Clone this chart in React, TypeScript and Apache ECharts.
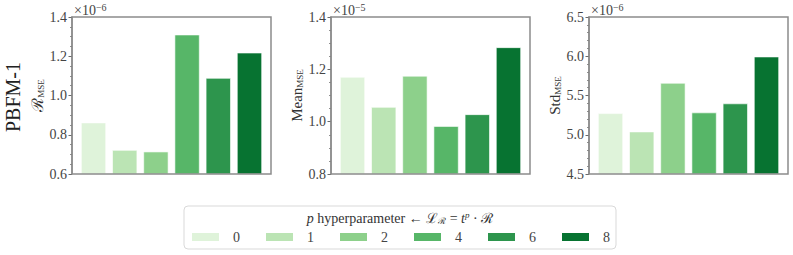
import React, { useEffect, useRef } from 'react';
import * as echarts from 'echarts';

const legendLabels = ['0', '1', '2', '4', '6', '8'];
const barColors = ['#dff3da', '#bbe4b4', '#8dd08b', '#57b668', '#2d954d', '#077331'];
const rValues = [0.862, 0.722, 0.714, 1.31, 1.089, 1.218];
const meanValues = [1.171, 1.056, 1.175, 0.983, 1.028, 1.284];
const stdValues = [5.273, 5.04, 5.66, 5.283, 5.398, 5.995];
const yMins = [0.6, 0.8, 4.5];
const yMaxs = [1.4, 1.4, 6.5];
const yIntervals = [0.2, 0.2, 0.5];
const minorSplits = [4, 4, 5];
const exponents = ['−6', '−5', '−6'];
const yNames = ['{r|ℛ}{s|MSE}', '{m|Mean}{s|MSE}', '{m|Std}{s|MSE}'];
const legendTitle = '{i|p}{n| hyperparameter ← }{c|ℒ}{sub|ℛ}{n| = }{i|t}{sup|p}{n| · }{c|ℛ}';
const rowLabel = 'PBFM-1';

const FONT = "'Liberation Serif', 'DejaVu Serif', serif";
const gridLefts = [72, 331, 589];
const GRID_TOP = 17;
const GRID_W = 199;
const GRID_H = 157;

export default function App() {
  const ref = useRef<HTMLDivElement>(null);
  useEffect(() => {
    if (!ref.current) return;
    const chart = echarts.init(ref.current, undefined, { renderer: 'svg' });
    const allValues = [rValues, meanValues, stdValues];
    const grids = gridLefts.map((l) => ({
      left: l,
      top: GRID_TOP,
      width: GRID_W,
      height: GRID_H,
      show: false,
    }));
    const xAxes = gridLefts.map((_, g) => ({
      type: 'value',
      gridIndex: g,
      min: -0.69,
      max: 5.69,
      axisLine: { show: false },
      axisTick: { show: false },
      axisLabel: { show: false },
      splitLine: { show: false },
    }));
    const yAxes = gridLefts.map((_, g) => ({
      type: 'value',
      gridIndex: g,
      min: yMins[g],
      max: yMaxs[g],
      interval: yIntervals[g],
      name: yNames[g],
      nameLocation: 'middle',
      nameRotate: 90,
      nameGap: g === 0 ? 23 : 25,
      nameTextStyle: {
        fontFamily: FONT,
        color: '#333',
        rich: {
          r: { fontFamily: FONT, fontSize: 16, color: '#333' },
          m: { fontFamily: FONT, fontSize: 15, color: '#333' },
          s: { fontFamily: FONT, fontSize: 9, color: '#333', verticalAlign: 'bottom', padding: [6, 0, 0, 0] },
        },
      },
      axisLine: { show: true, onZero: false, lineStyle: { color: '#8c8c8c', width: 1.5 } },
      axisTick: { show: true, length: 3.5, lineStyle: { color: '#444', width: 0.8 } },
      minorTick: { show: true, splitNumber: minorSplits[g], length: 2, lineStyle: { color: '#444', width: 0.6 } },
      splitLine: { show: false },
      axisLabel: {
        fontFamily: FONT,
        fontSize: 14,
        color: '#444',
        margin: 5,
        formatter: (v: number) => v.toFixed(1),
      },
    }));
    const series: any[] = [];
    allValues.forEach((vals, g) => {
      vals.forEach((v, i) => {
        series.push({
          type: 'bar',
          name: legendLabels[i],
          xAxisIndex: g,
          yAxisIndex: g,
          data: [[i, v]],
          barWidth: 25,
          barGap: '-100%',
          clip: true,
          itemStyle: { color: barColors[i], borderColor: '#ffffff', borderWidth: 0.6 },
        });
      });
    });
    const graphics: any[] = [
      {
        type: 'rect',
        shape: { x: 184, y: 206, width: 432, height: 43, r: 4 },
        style: { fill: '#fff', stroke: '#d9d9d9', lineWidth: 1 },
        z: -1,
      },
      {
        type: 'text',
        x: 400,
        y: 218,
        style: {
          text: legendTitle,
          align: 'center',
          verticalAlign: 'middle',
          fill: '#333',
          font: `14px ${FONT}`,
          rich: {
            i: { fontFamily: FONT, fontSize: 14, fontStyle: 'italic', fill: '#333' },
            n: { fontFamily: FONT, fontSize: 14, fill: '#333' },
            c: { fontFamily: FONT, fontSize: 14, fill: '#333' },
            sub: { fontFamily: FONT, fontSize: 9, fill: '#333', verticalAlign: 'bottom', padding: [6, 0, 0, 0] },
            sup: { fontFamily: FONT, fontSize: 9, fontStyle: 'italic', fill: '#333', verticalAlign: 'top', padding: [0, 0, 6, 0] },
          },
        },
      },
      {
        type: 'text',
        x: 13,
        y: 97,
        rotation: Math.PI / 2,
        style: {
          text: rowLabel,
          align: 'center',
          verticalAlign: 'middle',
          fill: '#222',
          font: `20px ${FONT}`,
        },
      },
    ];
    gridLefts.forEach((l, g) => {
      graphics.push({
        type: 'rect',
        shape: { x: l, y: GRID_TOP, width: GRID_W, height: GRID_H },
        style: { fill: 'none', stroke: '#8c8c8c', lineWidth: 1.5 },
        z: 50,
      });
      graphics.push({
        type: 'text',
        x: l + 2,
        y: 10,
        style: {
          text: `{a|×10}{b|${exponents[g]}}`,
          align: 'left',
          verticalAlign: 'middle',
          fill: '#444',
          rich: {
            a: { fontFamily: FONT, fontSize: 14, fill: '#444' },
            b: { fontFamily: FONT, fontSize: 10, fill: '#444', verticalAlign: 'top', padding: [0, 0, 5, 0] },
          },
        },
      });
    });
    chart.setOption({
      animation: false,
      backgroundColor: '#ffffff',
      grid: grids,
      xAxis: xAxes,
      yAxis: yAxes,
      series,
      legend: {
        data: legendLabels,
        left: 190,
        top: 230,
        padding: 0,
        itemWidth: 29,
        itemHeight: 10,
        itemGap: 24,
        icon: 'rect',
        selectedMode: false,
        textStyle: { fontFamily: FONT, fontSize: 14, color: '#444', padding: [0, 0, 0, 8] },
      },
      graphic: graphics,
    });
    return () => chart.dispose();
  }, []);
  return <div ref={ref} style={{ position: 'absolute', left: 0, top: 0, width: 793, height: 255 }} />;
}
